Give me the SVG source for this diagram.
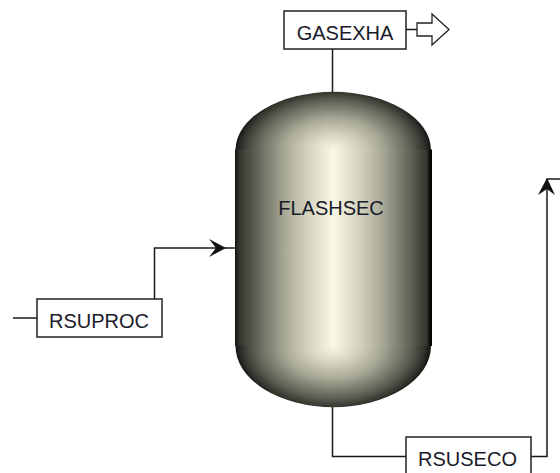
<svg xmlns="http://www.w3.org/2000/svg" width="560" height="473" viewBox="0 0 560 473">
<style>
.box{fill:#fff;stroke:#222;stroke-width:1.500}
.ln{fill:none;stroke:#1a1a1a;stroke-width:1.500}
.ah{fill:#111;stroke:none}
text{font-family:"Liberation Sans",Arial,sans-serif;font-size:20px;fill:#1a1a2a;text-anchor:middle}
</style>
<defs>
<linearGradient id="body" x1="0" x2="1" y1="0" y2="0">
<stop offset="0" stop-color="#111110"/>
<stop offset=".02" stop-color="#33332d"/>
<stop offset=".1" stop-color="#5c5c52"/>
<stop offset=".25" stop-color="#a8a896"/>
<stop offset=".38" stop-color="#d6d6c2"/>
<stop offset=".5" stop-color="#f9f9e6"/>
<stop offset=".62" stop-color="#d6d6c2"/>
<stop offset=".75" stop-color="#a8a896"/>
<stop offset=".9" stop-color="#5c5c52"/>
<stop offset=".975" stop-color="#33332d"/>
<stop offset=".985" stop-color="#111110"/>
<stop offset="1" stop-color="#000"/>
</linearGradient>
<radialGradient id="top" gradientUnits="userSpaceOnUse" cx="0" cy="0" r="1" gradientTransform="translate(333 150) scale(98 63)">
<stop offset="0" stop-color="#f9f9e6"/>
<stop offset=".24" stop-color="#d6d6c2"/>
<stop offset=".5" stop-color="#a8a896"/>
<stop offset=".8" stop-color="#5c5c52"/>
<stop offset=".93" stop-color="#33332d"/>
<stop offset="1" stop-color="#111110"/>
</radialGradient>
<radialGradient id="bot" gradientUnits="userSpaceOnUse" cx="0" cy="0" r="1" gradientTransform="translate(333 346) scale(98 66)">
<stop offset="0" stop-color="#f9f9e6"/>
<stop offset=".24" stop-color="#d6d6c2"/>
<stop offset=".5" stop-color="#a8a896"/>
<stop offset=".8" stop-color="#5c5c52"/>
<stop offset=".93" stop-color="#33332d"/>
<stop offset="1" stop-color="#111110"/>
</radialGradient>
</defs>
<g id="connectors">
<path class="ln" d="M332.500 49V92"/>
<path class="ln" d="M406 29.500H417"/>
<path class="ln" d="M13 318H37"/>
<path class="ln" d="M154.500 299V248H235"/>
<path class="ah" d="M209 239L226 248L209 257L216 248Z"/>
<path class="ln" d="M332.500 406V456.500H406"/>
<path class="ln" d="M531 456.500H547V179H560"/>
<path class="ah" d="M538 195L547 178L555 195L547 189Z"/>
</g>
<g id="FLASHSEC">
<path d="M235.500 150A97.500 58 0 0 1 431 150Z" fill="url(#top)"/>
<rect x="235" y="149.500" width="197" height="196.500" fill="url(#body)"/>
<path d="M235.500 346A97.500 61 0 0 0 431 346Z" fill="url(#bot)"/>
<text x="331" y="215">FLASHSEC</text>
</g>
<g id="GASEXHA">
<rect class="box" x="284" y="11" width="122" height="38"/>
<text x="345" y="40">GASEXHA</text>
</g>
<g id="GASEXHA-outlet">
<path d="M417 23H432V14L449 29.500L432 45V36H417Z" fill="#fff" stroke="#222" stroke-width="1.300"/>
</g>
<g id="RSUPROC">
<rect class="box" x="37" y="299" width="125" height="38"/>
<text x="99" y="328">RSUPROC</text>
</g>
<g id="RSUSECO">
<rect class="box" x="406" y="437" width="125" height="40"/>
<text x="467.500" y="466">RSUSECO</text>
</g>
</svg>
